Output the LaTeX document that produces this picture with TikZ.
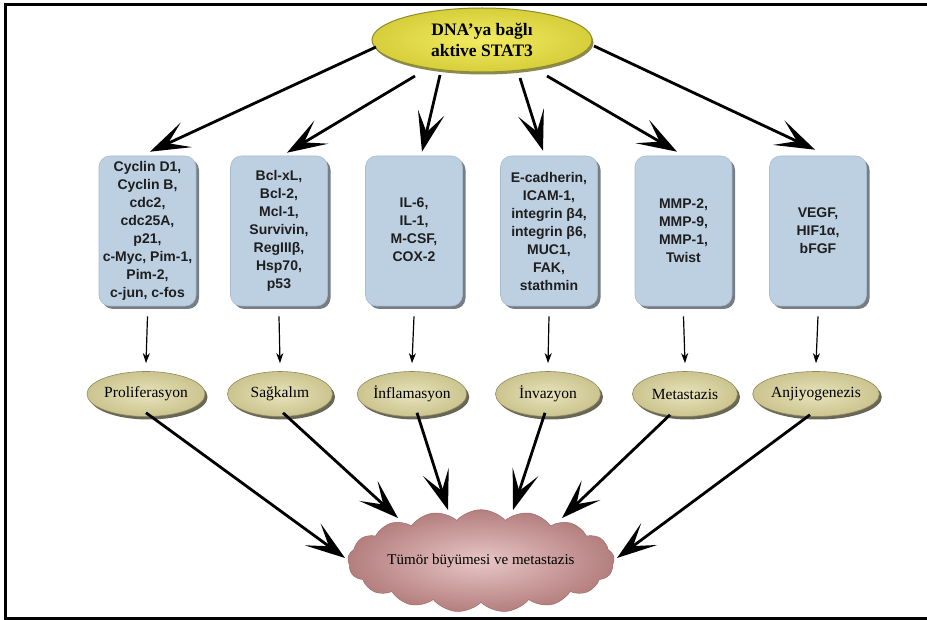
\documentclass[tikz,border=0pt]{standalone}
\usepackage{fontspec}
\setmainfont{Liberation Serif}
\setsansfont{Liberation Sans}
\usetikzlibrary{arrows.meta,shapes.geometric,shapes.symbols,shadows}
\definecolor{boxblue}{HTML}{BDD0E2}
\definecolor{boxedge}{HTML}{A9BCCD}
\definecolor{boxshadow}{HTML}{5E666E}
\definecolor{genetext}{HTML}{1E1E1E}
\definecolor{topin}{HTML}{F2EC62}
\definecolor{topout}{HTML}{D6CE3A}
\definecolor{topedge}{HTML}{8F8A2A}
\definecolor{effin}{HTML}{E8E3BC}
\definecolor{effout}{HTML}{CBC48E}
\definecolor{effedge}{HTML}{8E8960}
\definecolor{effshadow}{HTML}{4E4C38}
\definecolor{cloudin}{HTML}{E8C6C6}
\definecolor{cloudout}{HTML}{B47E7E}
\definecolor{cloudedge}{HTML}{9E6C6C}
\begin{document}
\begin{tikzpicture}[x=1pt,y=-1pt,
  gene/.style={rectangle, rounded corners=11pt, minimum width=97pt, minimum height=150pt,
    fill=boxblue, draw=boxedge, line width=0.6pt,
    drop shadow={shadow xshift=3pt, shadow yshift=-3pt, fill=boxshadow, opacity=0.85},
    align=center, inner sep=0pt, text=genetext,
    font=\sffamily\bfseries\fontsize{14}{18}\selectfont},
  effect/.style={ellipse, minimum width=105pt, minimum height=45pt, inner sep=0pt,
    inner color=effin, outer color=effout, draw=effedge, line width=0.6pt,
    drop shadow={shadow xshift=2.5pt, shadow yshift=-3pt, fill=effshadow, opacity=0.85},
    font=\fontsize{15.5}{18}\selectfont},
  bigarrow/.style={line width=2.8pt, -{Stealth[length=40pt,width=27pt,inset=20pt]}},
  smallarrow/.style={line width=1.2pt, -{Stealth[length=10pt,width=7pt,inset=3pt]}},
]
\useasboundingbox (0,0) rectangle (927,620);
% frame
\draw[line width=3pt] (927,4.5) -- (5.5,4.5) -- (5.5,618.5) -- (927,618.5);

% top ellipse
\node[ellipse, minimum width=220pt, minimum height=64pt, inner sep=0pt,
  inner color=topin, outer color=topout, draw=topedge, line width=1pt,
  drop shadow={shadow xshift=1.5pt, shadow yshift=-2.5pt, fill=topedge!70!black, opacity=0.75},
  align=center, font=\bfseries\fontsize{17.5}{21}\selectfont] (t) at (482,40)
  {DNA'ya bağlı\\aktive STAT3};

% gene boxes
\node[gene] (b1) at (147.5,231) {Cyclin D1,\\Cyclin B,\\cdc2,\\cdc25A,\\p21,\\c-Myc, Pim-1,\\Pim-2,\\c-jun, c-fos};
\node[gene] (b2) at (279,231) {Bcl-xL,\\Bcl-2,\\Mcl-1,\\Survivin,\\RegIIIβ,\\Hsp70,\\p53};
\node[gene] (b3) at (414,231) {\raisebox{8pt}{\begin{tabular}{@{}c@{}}IL-6,\\IL-1,\\M-CSF,\\COX-2\end{tabular}}};
\node[gene] (b4) at (549,231) {E-cadherin,\\ICAM-1,\\integrin β4,\\integrin β6,\\MUC1,\\FAK,\\stathmin};
\node[gene] (b5) at (683.5,231) {MMP-2,\\MMP-9,\\MMP-1,\\Twist};
\node[gene] (b6) at (818,231) {VEGF,\\HIF1α,\\bFGF};

% effect ellipses
\node[effect] (e1) at (146,394) {Proliferasyon};
\node[effect] (e2) at (280,394) {Sağkalım};
\node[effect] (e3) at (412,394) {İnflamasyon};
\node[effect] (e4) at (548,394) {İnvazyon};
\node[effect] (e5) at (685,394) {Metastazis};
\node[effect] (e6) at (816,394) {Anjiyogenezis};

% cloud
\node[cloud, cloud puffs=17, cloud puff arc=95, aspect=3.2,
  minimum width=236pt, minimum height=74pt, inner sep=0pt,
  inner color=cloudin, outer color=cloudout, draw=cloudedge, line width=0.5pt,
  font=\fontsize{15}{18}\selectfont] (c) at (481,561) {Tümör büyümesi ve metastazis};

% start points of the top arrows
\coordinate (s1) at (376,47);
\coordinate (s2) at (415,76);
\coordinate (s3) at (440,75);
\coordinate (s4) at (520,78);
\coordinate (s5) at (547,76);
\coordinate (s6) at (594,46);

\draw[bigarrow] (s1) -- ([xshift=2.5pt,yshift=4pt]b1.north);
\draw[bigarrow] (s2) -- ([xshift=8pt,yshift=3pt]b2.north);
\draw[bigarrow] (s3) -- ([xshift=8pt,yshift=4pt]b3.north);
\draw[bigarrow] (s4) -- ([xshift=-6pt,yshift=5pt]b4.north);
\draw[bigarrow] (s5) -- ([xshift=-6.5pt,yshift=4pt]b5.north);
\draw[bigarrow] (s6) -- ([xshift=-3pt,yshift=6pt]b6.north);

% small arrows
\foreach \i in {1,...,6}{
  \draw[smallarrow] ([yshift=-10pt]b\i.south) -- ([yshift=8pt]e\i.north);
}

% tips at the cloud
\coordinate (k1) at (345,558);
\coordinate (k2) at (398,518);
\coordinate (k3) at (448,510);
\coordinate (k4) at (513,510);
\coordinate (k5) at (562,518);
\coordinate (k6) at (617,558);

\draw[bigarrow] ([yshift=4pt]e1.south) -- (k1);
\draw[bigarrow] ([xshift=3pt,yshift=4pt]e2.south) -- (k2);
\draw[bigarrow] ([xshift=5pt,yshift=4pt]e3.south) -- (k3);
\draw[bigarrow] ([xshift=-3pt,yshift=4pt]e4.south) -- (k4);
\draw[bigarrow] ([xshift=-15pt,yshift=2pt]e5.south) -- (k5);
\draw[bigarrow] ([xshift=-6pt,yshift=2pt]e6.south) -- (k6);
\end{tikzpicture}
\end{document}
